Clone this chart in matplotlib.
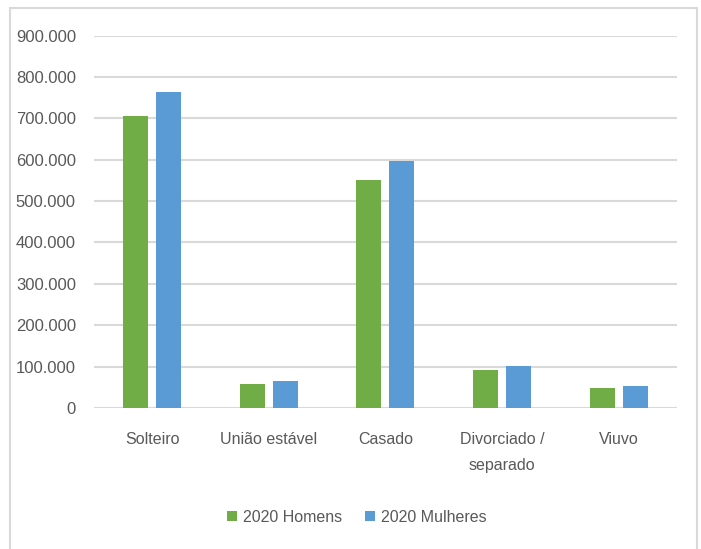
import matplotlib
matplotlib.use("Agg")
import matplotlib.pyplot as plt
import numpy as np
from matplotlib.patches import Rectangle
from matplotlib.ticker import FuncFormatter, MultipleLocator

categories = ["Solteiro", "União estável", "Casado", "Divorciado /\nseparado", "Viuvo"]
homens = [705000, 59000, 551000, 92000, 48000]
mulheres = [764000, 65000, 597000, 101000, 54000]
series_labels = ["2020 Homens", "2020 Mulheres"]

GREEN = "#70AD47"
BLUE = "#5B9BD5"
TEXT = "#595959"
GRID = "#D9D9D9"

plt.rcParams["font.family"] = ["Liberation Sans", "DejaVu Sans"]

fig = plt.figure(figsize=(7.01, 5.49), dpi=100)
ax = fig.add_axes([0.134, 0.2568, 0.8317, 0.6785])

x = np.arange(len(categories))
w = 0.214
off = 0.1415
ax.bar(x - off, homens, width=w, color=GREEN, label=series_labels[0], zorder=3)
ax.bar(x + off, mulheres, width=w, color=BLUE, label=series_labels[1], zorder=3)

ax.set_xlim(-0.5, len(categories) - 0.5)
ax.set_ylim(0, 900000)
ax.yaxis.set_major_locator(MultipleLocator(100000))
ax.yaxis.set_major_formatter(FuncFormatter(lambda v, p: f"{int(v):,}".replace(",", ".")))
ax.grid(axis="y", color=GRID, linewidth=1.5, zorder=0)
for s in ax.spines.values():
    s.set_visible(False)
ax.axhline(0, color=GRID, linewidth=1.5, zorder=2)
ax.tick_params(axis="y", length=0, labelsize=12, labelcolor=TEXT, pad=13)
ax.tick_params(axis="x", length=0, labelsize=11.5, labelcolor=TEXT, pad=17)
ax.set_xticks(x)
ax.set_xticklabels(categories, linespacing=1.95)

fig.legend(loc="center", bbox_to_anchor=(357 / 701, 1 - 517 / 549), ncol=2, frameon=False,
           fontsize=11.5, labelcolor=TEXT, handlelength=0.6, handleheight=0.6,
           handletextpad=0.4, columnspacing=1.4)

fig.patches.append(Rectangle((10 / 701, -0.05), 687 / 701, 1 - 8 / 549 + 0.05,
                             transform=fig.transFigure, fill=False,
                             edgecolor="#D9D9D9", linewidth=1.5))

fig.savefig("out.png", dpi=100)
